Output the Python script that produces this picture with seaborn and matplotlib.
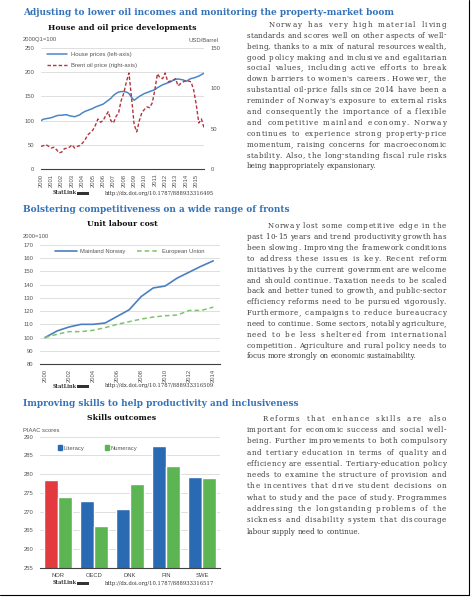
import pandas as pd
import matplotlib
matplotlib.use("Agg")
import matplotlib.pyplot as plt
import seaborn as sns
from matplotlib.patches import Rectangle, Patch
from matplotlib.lines import Line2D

# ---- data: house and oil prices (quarterly, 2000Q1-2015Q4) ----
quarters = pd.period_range("2000Q1", "2015Q4", freq="Q")
house_prices = [100, 103, 104, 105, 106, 108, 110, 111,
                111, 112, 112, 110, 109, 108, 110, 112,
                116, 119, 121, 123, 125, 128, 130, 132,
                134, 138, 142, 146, 152, 156, 159, 160,
                160, 159, 156, 148, 142, 146, 150, 153,
                156, 158, 160, 162, 164, 168, 171, 174,
                176, 178, 180, 183, 185, 186, 185, 184,
                181, 184, 187, 188, 190, 192, 195, 198]
brent_oil = [28, 29, 30, 28, 26, 27, 24, 20,
             21, 25, 26, 27, 30, 26, 28, 29,
             32, 36, 42, 45, 48, 54, 62, 58,
             60, 66, 71, 60, 57, 65, 70, 85,
             94, 108, 119, 88, 55, 46, 60, 70,
             74, 77, 76, 82, 98, 118, 113, 112,
             119, 108, 109, 110, 112, 103, 106, 108,
             110, 109, 108, 98, 80, 57, 62, 51]
oil_years = list(range(2000, 2016))

# ---- data: unit labour cost (2000=100) ----
ulc_years = list(range(2000, 2015))
ulc_norway = [100, 105, 108, 110, 110, 111, 116, 121, 131, 137.5, 139, 145, 149.5, 154, 158]
ulc_eu = [100, 102.5, 104.5, 104.5, 105.5, 107.5, 110, 112, 114, 115.5, 116.5, 117, 120.5, 120.5, 123]
ulc_ticks = list(range(2000, 2015, 2))

# ---- data: PIAAC skills ----
countries = ["NOR", "OECD", "DNK", "FIN", "SWE"]
literacy = [278.3, 272.7, 270.7, 287.4, 279.1]
numeracy = [273.8, 266.1, 277.4, 282.2, 278.9]

# ---- text ----
headers = ["Adjusting to lower oil incomes and monitoring the property-market boom",
           "Bolstering competitiveness on a wide range of fronts",
           "Improving skills to help productivity and inclusiveness"]
titles = ["House and oil price developments", "Unit labour cost", "Skills outcomes"]
urls = ["http://dx.doi.org/10.1787/888933316495",
        "http://dx.doi.org/10.1787/888933316509",
        "http://dx.doi.org/10.1787/888933316517"]

para1 = ["Norway has very high material living",
         "standards and scores well on other aspects of well-",
         "being, thanks to a mix of natural resources wealth,",
         "good policy making and inclusive and egalitarian",
         "social values, including active efforts to break",
         "down barriers to women's careers. However, the",
         "substantial oil-price falls since 2014 have been a",
         "reminder of Norway's exposure to external risks",
         "and consequently the importance of a flexible",
         "and competitive mainland economy. Norway",
         "continues to experience strong property-price",
         "momentum, raising concerns for macroeconomic",
         "stability. Also, the long-standing fiscal rule risks",
         "being inappropriately expansionary."]
para2 = ["Norway lost some competitive edge in the",
         "past 10-15 years and trend productivity growth has",
         "been slowing. Improving the framework conditions",
         "to address these issues is key. Recent reform",
         "initiatives by the current government are welcome",
         "and should continue. Taxation needs to be scaled",
         "back and better tuned to growth, and public-sector",
         "efficiency reforms need to be pursued vigorously.",
         "Furthermore, campaigns to reduce bureaucracy",
         "need to continue. Some sectors, notably agriculture,",
         "need to be less sheltered from international",
         "competition. Agriculture and rural policy needs to",
         "focus more strongly on economic sustainability."]
para3 = ["Reforms that enhance skills are also",
         "important for economic success and social well-",
         "being. Further improvements to both compulsory",
         "and tertiary education in terms of quality and",
         "efficiency are essential. Tertiary-education policy",
         "needs to examine the structure of provision and",
         "the incentives that drive student decisions on",
         "what to study and the pace of study. Programmes",
         "addressing the longstanding problems of the",
         "sickness and disability system that discourage",
         "labour supply need to continue."]

W, H = 471, 599
sns.set_theme(style="white")
plt.rcParams["font.family"] = ["Liberation Sans", "DejaVu Sans"]
fig = plt.figure(figsize=(W / 100, H / 100), dpi=100)
renderer = fig.canvas.get_renderer()

GRAY = "#555555"
BLUE_HEAD = "#3472b8"
SMALL = 4.2
SPACE = 1.8


def fx(px):
    return px / W


def fy(py):
    return 1 - py / H


def axes_px(left, top, right, bottom):
    return fig.add_axes([fx(left), fy(bottom), (right - left) / W, (bottom - top) / H])


def style_ax(ax):
    for s in ["left", "right", "top"]:
        ax.spines[s].set_visible(False)
    ax.spines["bottom"].set_color("#404040")
    ax.spines["bottom"].set_linewidth(0.8)
    ax.grid(axis="y", color="#d9d9d9", lw=0.6)
    ax.grid(axis="x", visible=False)
    ax.set_axisbelow(True)
    ax.tick_params(axis="y", length=0, labelsize=SMALL, labelcolor=GRAY, pad=5)
    ax.tick_params(axis="x", labelsize=SMALL, labelcolor=GRAY, length=2.5, width=0.6,
                   color="#404040", direction="inout", pad=2)
    ax.set_xlabel("")
    ax.set_ylabel("")
    ax.set_facecolor("none")


def statlink(y, url):
    fig.text(fx(53), fy(y), "StatLink", fontsize=3.6, family="DejaVu Serif",
             weight="bold", color="#333333", va="center")
    fig.add_artist(Rectangle((fx(77), fy(y + 1.5)), 12 / W, 3 / H, transform=fig.transFigure,
                             color="#333333", lw=0))
    fig.text(fx(105), fy(y), url, fontsize=3.8, family="DejaVu Serif", color="#333333", va="center")


def draw_line(line, start, y, right, last, **kw):
    if last:
        x = start
        for w in line.split():
            t = fig.text(fx(x), y, w, va="baseline", **kw)
            x += t.get_window_extent(renderer).width + SPACE
        return
    # justified line: slack goes mostly to the word spaces, a little to the letters
    chars = []
    for c in line:
        if c == " ":
            chars.append((None, SPACE, 4.0))
        else:
            t = fig.text(0, y, c, va="baseline", **kw)
            chars.append((t, t.get_window_extent(renderer).width, 1.0))
    total = sum(c[1] for c in chars)
    weight = sum(c[2] for c in chars[:-1])
    unit = (right - start - total) / weight
    x = start
    for t, wd, wt in chars:
        if t is not None:
            t.set_x(fx(x))
        x += wd + unit * wt


def paragraph(lines, top, step, indent, left=246.5, right=446):
    for i, line in enumerate(lines):
        start = left + (indent if i == 0 else 0)
        draw_line(line, start, fy(top + i * step + 1.8), right, i == len(lines) - 1,
                  fontsize=5.1, family="DejaVu Serif", color="#3b3b3b")


# ---- headers and titles ----
for txt, y in zip(headers, [12.7, 210, 403]):
    fig.text(fx(23), fy(y), txt, fontsize=6.45, family="DejaVu Serif", weight="bold",
             color=BLUE_HEAD, va="center")
for txt, y in zip(titles, [28, 224, 418]):
    fig.text(fx(122), fy(y), txt, fontsize=5.6, family="DejaVu Serif", weight="bold",
             color="#111111", va="center", ha="center")

# ---- chart 1: house and oil prices ----
t = quarters.year + (quarters.quarter - 1) / 4
df1 = pd.DataFrame({"t": t, "house": house_prices, "oil": brent_oil})
ax1 = axes_px(41, 48, 204, 169)
sns.lineplot(data=df1, x="t", y="house", ax=ax1, color="#4a86c8", lw=1.1)
ax1b = ax1.twinx()
sns.lineplot(data=df1, x="t", y="oil", ax=ax1b, color="#b3343f", lw=1.0, ls=(0, (2.5, 1.5)))
style_ax(ax1)
style_ax(ax1b)
ax1b.grid(False)
ax1b.spines["bottom"].set_visible(False)
ax1.set_ylim(0, 250)
ax1.set_yticks(range(0, 251, 50))
ax1b.set_ylim(0, 150)
ax1b.set_yticks(range(0, 151, 50))
ax1b.tick_params(axis="y", pad=5)
ax1.set_xlim(2000, 2015.75)
ax1.set_xticks(oil_years)
ax1.set_xticklabels(oil_years, rotation=90)
h1 = [Line2D([], [], color="#4a86c8", lw=1.1), Line2D([], [], color="#b3343f", lw=1.0, ls=(0, (2.5, 1.5)))]
ax1.legend(h1, ["House prices (left-axis)", "Brent oil price (right-axis)"], loc="upper left",
           bbox_to_anchor=(0.037, 0.967), frameon=False, fontsize=SMALL, labelcolor=GRAY,
           borderpad=0, borderaxespad=0, handlelength=3.4, handletextpad=0.7, labelspacing=1.0)
fig.text(fx(23), fy(40), "2000Q1=100", fontsize=SMALL, color=GRAY, va="center")
fig.text(fx(218), fy(40), "USD/Barrel", fontsize=SMALL, color=GRAY, va="center", ha="right")
statlink(193, urls[0])

# ---- chart 2: unit labour cost ----
df2 = pd.DataFrame({"year": ulc_years, "Mainland Norway": ulc_norway, "European Union": ulc_eu})
ax2 = axes_px(40, 245, 220, 364)
sns.lineplot(data=df2, x="year", y="Mainland Norway", ax=ax2, color="#4a7fc0", lw=1.2)
sns.lineplot(data=df2, x="year", y="European Union", ax=ax2, color="#7dc36b", lw=1.1, ls=(0, (3, 2)))
style_ax(ax2)
ax2.set_ylim(80, 170)
ax2.set_yticks(range(80, 171, 10))
ax2.set_xlim(1999.58, 2014.56)
ax2.set_xticks(ulc_ticks)
ax2.set_xticklabels(ulc_ticks, rotation=90)
h2 = [Line2D([], [], color="#4a7fc0", lw=1.2), Line2D([], [], color="#7dc36b", lw=1.1, ls=(0, (3, 2)))]
ax2.legend(h2, ["Mainland Norway", "European Union"], loc="center left", ncol=2,
           bbox_to_anchor=(0.083, 0.944), frameon=False, fontsize=SMALL, labelcolor=GRAY,
           borderpad=0, borderaxespad=0, handlelength=3.8, handletextpad=0.5, columnspacing=2.0)
fig.text(fx(23), fy(237), "2000=100", fontsize=SMALL, color=GRAY, va="center")
statlink(386, urls[1])

# ---- chart 3: skills outcomes ----
df3 = pd.DataFrame({"country": countries * 2,
                    "measure": ["Literacy"] * 5 + ["Numeracy"] * 5,
                    "score": literacy + numeracy})
pal = {"Literacy": "#2a6ab3", "Numeracy": "#5cb452"}
ax3 = axes_px(40, 436.7, 220, 567.7)
sns.barplot(data=df3, x="country", y="score", hue="measure", palette=pal, ax=ax3,
            width=0.8, saturation=1, legend=False)
style_ax(ax3)
ax3.containers[0][0].set_facecolor("#e23a3f")
ax3.set_ylim(255, 290)
ax3.set_yticks(range(255, 291, 5))
ax3.set_xlim(-0.5, 4.5)
ax3.set_xticks(range(5), minor=False)
ax3.set_xticks([i - 0.5 for i in range(6)], minor=True)
ax3.tick_params(axis="x", which="major", length=0, pad=4, labelcolor="#444444")
ax3.tick_params(axis="x", which="minor", length=2.5, width=0.6, color="#404040", direction="inout")
h3 = [Patch(color=pal["Literacy"]), Patch(color=pal["Numeracy"])]
ax3.legend(h3, ["Literacy", "Numeracy"], loc="center left", ncol=2,
           bbox_to_anchor=(0.1, 0.914), frameon=False, fontsize=SMALL, labelcolor=GRAY,
           borderpad=0, borderaxespad=0, handlelength=0.7, handleheight=0.7,
           handletextpad=0.3, columnspacing=3.4)
fig.text(fx(23), fy(431), "PIAAC scores", fontsize=SMALL, color=GRAY, va="center")
statlink(583, urls[2])

# ---- right-hand text ----
paragraph(para1, 25, 10.9, 22)
paragraph(para2, 226.7, 10.83, 21.5)
paragraph(para3, 419, 11.27, 16.5)

# page frame (right and bottom edges)
fig.add_artist(Line2D([fx(469), fx(469)], [fy(0), fy(595)], transform=fig.transFigure, color="black", lw=0.8))
fig.add_artist(Line2D([0, fx(469)], [fy(595), fy(595)], transform=fig.transFigure, color="black", lw=0.8))

fig.savefig("out.png", dpi=100)
